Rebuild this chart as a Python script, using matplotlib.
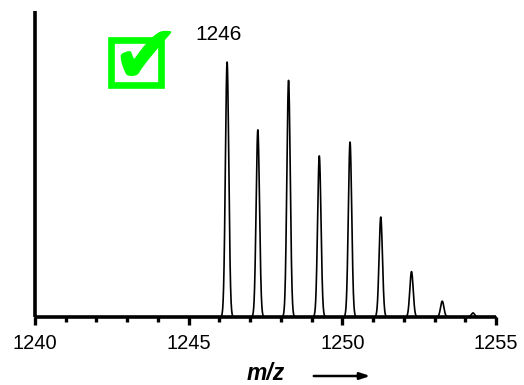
import matplotlib as mpl
mpl.use('Agg')
import matplotlib.pyplot as plt
from matplotlib.patches import Rectangle
import numpy as np

# isotope peaks (m/z, relative height)
peak_mz = [1246.25, 1247.25, 1248.25, 1249.25, 1250.25, 1251.25, 1252.25, 1253.25, 1254.25]
peak_int = [100, 73.4, 92.8, 63.2, 68.6, 39.2, 17.8, 6.2, 1.6]
peak_sigma = 0.055
xticks_major = [1240, 1245, 1250, 1255]
label_top = '1246'

plt.rcParams['font.family'] = ['Liberation Sans', 'DejaVu Sans']

fig = plt.figure(figsize=(5.24, 3.85), dpi=100)
ax = fig.add_axes([0.0668, 0.1766, 0.8798, 0.7948])

mz = np.linspace(1240, 1255, 6000)
trace = np.zeros_like(mz)
for c, h in zip(peak_mz, peak_int):
	trace += h*np.exp(-0.5*((mz-c)/peak_sigma)**2)
ax.plot(mz, trace, color='black', lw=1.2, clip_on=False)

ax.set_xlim(1240, 1255)
ax.set_ylim(0, 120)
ax.set_xticks(xticks_major)
ax.set_xticks(np.arange(1240, 1256, 1), minor=True)
ax.set_yticks([])
for s in ['top', 'right']:
	ax.spines[s].set_visible(False)
for s in ['left', 'bottom']:
	ax.spines[s].set_linewidth(2.6)
	ax.spines[s].set_capstyle('butt')
ax.tick_params(axis='x', which='major', direction='out', length=6, width=2.4, labelsize=14.5, pad=6)
ax.tick_params(axis='x', which='minor', direction='out', length=3.5, width=2.4)

# m/z label with arrow
fig.text(266/524, 1-380/385, 'm/z', fontsize=16.5, fontweight='bold', fontstyle='italic',
		 ha='center', va='baseline')
ax.annotate('', xy=(373/524, 1-376/385), xytext=(311/524, 1-376/385),
			xycoords='figure fraction', textcoords='figure fraction',
			arrowprops=dict(arrowstyle='-|>,head_length=0.6,head_width=0.2', color='black', lw=1.8))

# peak label
fig.text(219/524, 1-34/385, label_top, fontsize=15, ha='center', va='center')

# green check box
box = Rectangle((111/524, 1-85/385), 50/524, 45/385, transform=fig.transFigure,
				fill=False, edgecolor='#00ff00', lw=4.8, joinstyle='miter')
fig.add_artist(box)
fig.text(145/524, 1-60/385, '\u2714', fontsize=60, color='#00ff00', family='DejaVu Sans',
		 ha='center', va='center')

fig.savefig('out.png', dpi=100)
